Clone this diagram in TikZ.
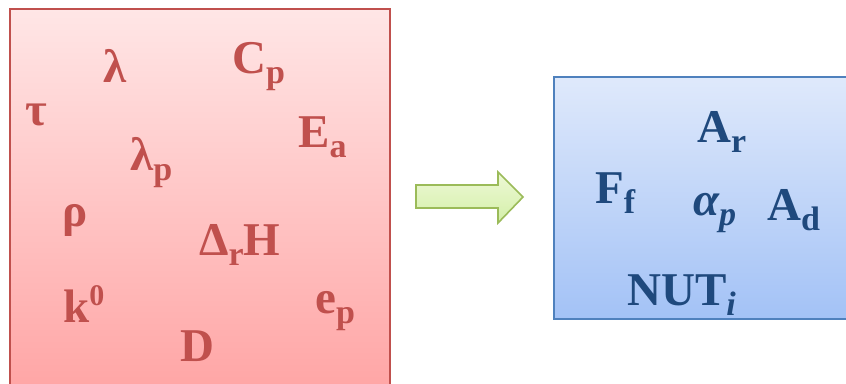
\documentclass[tikz,border=0pt]{standalone}
\usepackage{fontspec}
\setmainfont{Liberation Serif}
\usetikzlibrary{positioning}
\definecolor{inRed}{HTML}{C0504D}
\definecolor{inTop}{HTML}{FFE6E6}
\definecolor{inBot}{HTML}{FFA2A2}
\definecolor{outBlue}{HTML}{1F497D}
\definecolor{outEdge}{HTML}{4F81BD}
\definecolor{outTop}{HTML}{DFE9FB}
\definecolor{outBot}{HTML}{A3C2F6}
\definecolor{arrGreen}{HTML}{9BBB59}
\definecolor{arrTop}{HTML}{EEF9D6}
\definecolor{arrBot}{HTML}{D3EFA8}
\newcommand{\subtxt}[1]{\raisebox{-10pt}{\fontsize{34}{36}\selectfont #1}}
\newcommand{\suptxt}[1]{\raisebox{17pt}{\fontsize{30}{32}\selectfont #1}}
\tikzset{
  inbox/.style     = {draw=inRed, line width=1.8pt, top color=inTop, bottom color=inBot,
                      inner sep=0pt, anchor=north west},
  outbox/.style    = {draw=outEdge, line width=1.8pt, top color=outTop, bottom color=outBot,
                      inner sep=0pt, anchor=north west},
  movearrow/.style = {draw=arrGreen, line width=1.6pt, top color=arrTop, bottom color=arrBot},
  inlbl/.style     = {inRed, font=\fontsize{47}{50}\selectfont\bfseries,
                      inner sep=0pt, anchor=base west},
  outlbl/.style    = {outBlue, font=\fontsize{47}{50}\selectfont\bfseries,
                      inner sep=0pt, anchor=base west},
}

\begin{document}
\begin{tikzpicture}[x=1pt, y=-1pt]
  \useasboundingbox (0,0) rectangle (846,383);
  \fill[white] (0,0) rectangle (846,383);
  \clip (0,0) rectangle (846,383);

  % parameter boxes
  \node[inbox, minimum width=380pt, minimum height=400pt] (inputs) at (9,8) {};
  \node[outbox, minimum width=320pt, minimum height=242pt] (outputs) at (553,76) {};

  % block arrow
  \draw[movearrow] (416,185) -- (498,185) -- (498,172) -- (523,197)
                   -- (498,223) -- (498,208) -- (416,208) -- cycle;

  % inputs
  \node[inlbl] (lam)  at (103,82)  {λ};
  \node[inlbl] (cp)   at (232,73)  {C\subtxt{p}};
  \node[inlbl] (tau)  at (25,125)  {τ};
  \node[inlbl] (ea)   at (298,147) {E\subtxt{a}};
  \node[inlbl] (lamp) at (130,170) {λ\subtxt{p}};
  \node[inlbl] (rho)  at (62,226)  {ρ};
  \node[inlbl] (drh)  at (199,255) {Δ\subtxt{r}H};
  \node[inlbl] (kzero) at (63,322) {k\suptxt{0}};
  \node[inlbl] (ep)   at (315,313) {e\subtxt{p}};
  \node[inlbl] (dd)   at (180,361) {D};

  % outputs
  \node[outlbl] (ar)  at (697,142) {A\subtxt{r}};
  \node[outlbl] (ff)  at (595,203) {F\subtxt{f}};
  \node[outlbl] (alp) at (693,215) {\textit{α\subtxt{p}}};
  \node[outlbl] (ad)  at (767,220) {A\subtxt{d}};
  \node[outlbl] (nut) at (627,305) {NUT\subtxt{\textit{i}}};
\end{tikzpicture}
\end{document}
